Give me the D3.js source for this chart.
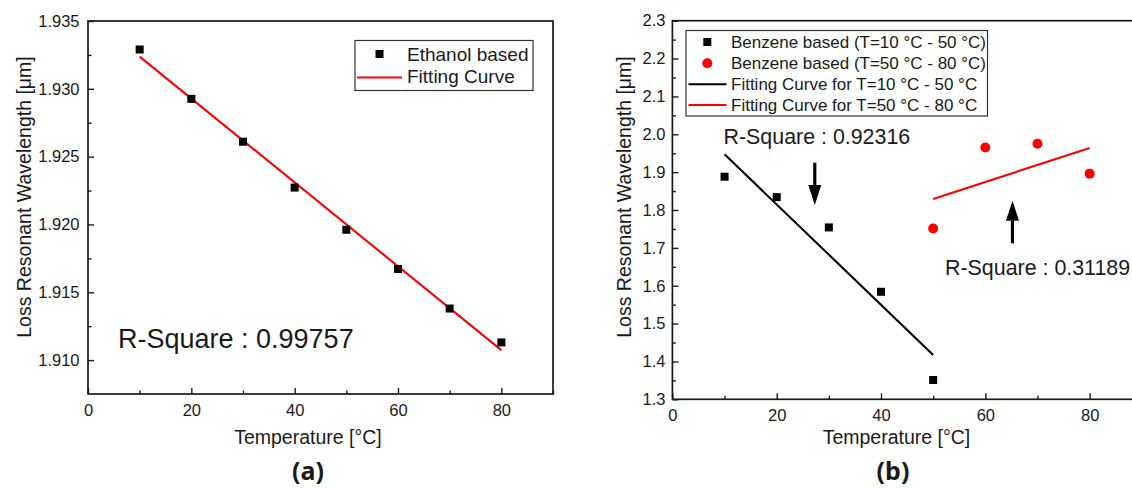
<!DOCTYPE html>
<html>
<head>
<meta charset="utf-8">
<script src="https://cdn.jsdelivr.net/npm/d3@7"></script>
<style>
  html, body { margin: 0; padding: 0; background: #fff; }
  svg { display: block; font-family: "Liberation Sans", Arial, sans-serif; }
</style>
</head>
<body>
<svg id="chart" width="1132" height="488"></svg>
<script>
// ---- Panel (a): ethanol based sensor ----
const ethanolTemps = [10, 20, 30, 40, 50, 60, 70, 80];
const ethanolWavelengths = [1.9329, 1.92926, 1.9261, 1.92272, 1.91961, 1.91672, 1.9138, 1.9113];
const ethanolFitTemps = [10, 80];
const ethanolFitValues = [1.93237, 1.91073];
const ethanolYTicks = [1.910, 1.915, 1.920, 1.925, 1.930, 1.935];
const ethanolYMinor = [1.9125, 1.9175, 1.9225, 1.9275, 1.9325];
const ethanolRSquare = "R-Square : 0.99757";
const ethanolLegend = ["Ethanol based", "Fitting Curve"];

// ---- Panel (b): benzene based sensor ----
const benzeneLowTemps = [10, 20, 30, 40, 50];
const benzeneLowValues = [1.888, 1.834, 1.754, 1.584, 1.351];
const benzeneHighTemps = [50, 60, 70, 80];
const benzeneHighValues = [1.751, 1.965, 1.975, 1.896];
const benzeneLowFitTemps = [10, 50];
const benzeneLowFitValues = [1.947, 1.417];
const benzeneHighFitTemps = [50, 80];
const benzeneHighFitValues = [1.829, 1.964];
const benzeneYTicks = [1.3, 1.4, 1.5, 1.6, 1.7, 1.8, 1.9, 2.0, 2.1, 2.2, 2.3];
const benzeneYMinor = [1.35, 1.45, 1.55, 1.65, 1.75, 1.85, 1.95, 2.05, 2.15, 2.25];
const benzeneRSquareLow = "R-Square : 0.92316";
const benzeneRSquareHigh = "R-Square : 0.31189";
const benzeneLegend = [
  "Benzene based (T=10 °C - 50 °C)",
  "Benzene based (T=50 °C - 80 °C)",
  "Fitting Curve for T=10 °C - 50 °C",
  "Fitting Curve for T=50 °C - 80 °C"
];

// ---- shared axis ticks and titles ----
const tempTicks = [0, 20, 40, 60, 80, 100];
const tempMinor = [10, 30, 50, 70, 90];
const xTitle = "Temperature [°C]";
const yTitle = "Loss Resonant Wavelength [μm]";

const INK = "#1a1a1a";
const RED = "#ff0000";
const svg = d3.select("#chart");

function drawFrame(g, x, y, opts) {
  const [x0, x1] = x.range();
  const [yb, yt] = y.range();
  g.append("rect")
    .attr("x", x0).attr("y", yt)
    .attr("width", x1 - x0).attr("height", yb - yt)
    .attr("fill", "none").attr("stroke", INK).attr("stroke-width", 1.7);

  const styleAxis = sel => {
    sel.select(".domain").remove();
    sel.selectAll(".tick line").attr("stroke", INK).attr("stroke-width", 1.4);
    sel.selectAll(".tick text")
      .attr("fill", INK)
      .attr("font-family", '"Liberation Sans", Arial, sans-serif')
      .attr("font-size", opts.tickFont);
  };

  // x axis: inward major and minor ticks
  g.append("g").attr("transform", `translate(0,${yb})`)
    .call(d3.axisBottom(x).tickValues(tempTicks.filter(t => t <= x.domain()[1]))
      .tickFormat(d3.format("d")).tickSizeInner(-6).tickSizeOuter(0).tickPadding(opts.xPad))
    .call(styleAxis);
  g.append("g").attr("transform", `translate(0,${yb})`)
    .call(d3.axisBottom(x).tickValues(tempMinor).tickFormat("").tickSizeInner(-3.5).tickSizeOuter(0))
    .call(styleAxis);

  // y axis: inward major and minor ticks
  g.append("g").attr("transform", `translate(${x0},0)`)
    .call(d3.axisLeft(y).tickValues(opts.yTicks).tickFormat(d3.format(opts.yFormat))
      .tickSizeInner(-6).tickSizeOuter(0).tickPadding(opts.yPad))
    .call(styleAxis);
  g.append("g").attr("transform", `translate(${x0},0)`)
    .call(d3.axisLeft(y).tickValues(opts.yMinor).tickFormat("").tickSizeInner(-3.5).tickSizeOuter(0))
    .call(styleAxis);

  // axis titles
  g.append("text")
    .attr("x", opts.xTitleX).attr("y", 444)
    .attr("text-anchor", "middle").attr("font-size", 19.5).attr("fill", INK)
    .text(xTitle);
  g.append("text")
    .attr("transform", `translate(${opts.yTitleX},197) rotate(-90)`)
    .attr("text-anchor", "middle").attr("font-size", 19.5).attr("fill", INK)
    .text(yTitle);
  // panel label
  g.append("text")
    .attr("x", opts.labelX).attr("y", 480)
    .attr("text-anchor", "middle")
    .attr("font-family", '"Noto Sans", "Open Sans", sans-serif')
    .attr("font-weight", "bold").attr("font-size", 25).attr("fill", INK)
    .text(opts.label);
}

function squares(g, x, y, xs, ys, size) {
  g.selectAll(null).data(xs.map((t, i) => [t, ys[i]])).enter()
    .append("rect")
    .attr("x", d => x(d[0]) - size / 2).attr("y", d => y(d[1]) - size / 2)
    .attr("width", size).attr("height", size).attr("fill", "#000");
}

function fitLine(g, x, y, xs, ys, color) {
  g.append("path")
    .datum(xs.map((t, i) => [t, ys[i]]))
    .attr("d", d3.line().x(d => x(d[0])).y(d => y(d[1])))
    .attr("fill", "none").attr("stroke", color).attr("stroke-width", 2.1);
}

function arrow(g, x, y, t, from, to) {
  const px = x(t), p0 = y(from), p1 = y(to);
  const dir = Math.sign(p1 - p0), head = 20, half = 6.5;
  g.append("line")
    .attr("x1", px).attr("x2", px).attr("y1", p0).attr("y2", p1 - dir * head)
    .attr("stroke", "#000").attr("stroke-width", 3.2);
  g.append("path")
    .attr("d", `M${px - half},${p1 - dir * head} L${px + half},${p1 - dir * head} L${px},${p1} Z`)
    .attr("fill", "#000");
}

// ================= Panel (a) =================
{
  const g = svg.append("g");
  const x = d3.scaleLinear().domain([0, 90]).range([88, 553]);
  const y = d3.scaleLinear().domain([1.9075, 1.935]).range([394, 21]);
  drawFrame(g, x, y, {
    tickFont: 16.5, xPad: 10, yPad: 8.5, yTicks: ethanolYTicks, yMinor: ethanolYMinor,
    yFormat: ".3f", xTitleX: 308, yTitleX: 30.5, labelX: 308, label: "(a)"
  });
  fitLine(g, x, y, ethanolFitTemps, ethanolFitValues, RED);
  squares(g, x, y, ethanolTemps, ethanolWavelengths, 8);

  g.append("text").attr("x", 118).attr("y", 348)
    .attr("font-size", 27).attr("fill", INK).text(ethanolRSquare);

  // legend
  const lg = g.append("g");
  lg.append("rect").attr("x", 355).attr("y", 40.5).attr("width", 178).attr("height", 50)
    .attr("fill", "#fff").attr("stroke", "#333").attr("stroke-width", 1.2);
  lg.append("rect").attr("x", 379.5 - 4).attr("y", 54 - 4).attr("width", 8).attr("height", 8).attr("fill", "#000");
  lg.append("line").attr("x1", 357).attr("x2", 402).attr("y1", 77.5).attr("y2", 77.5)
    .attr("stroke", RED).attr("stroke-width", 2);
  lg.selectAll(null).data(ethanolLegend).enter().append("text")
    .attr("x", 407).attr("y", (d, i) => 61 + i * 21.5)
    .attr("font-size", 19).attr("fill", INK).text(d => d);
}

// ================= Panel (b) =================
{
  const g = svg.append("g");
  const x = d3.scaleLinear().domain([0, 90]).range([672.4, 1141.8]);
  const y = d3.scaleLinear().domain([1.3, 2.3]).range([399.3, 20.7]);
  drawFrame(g, x, y, {
    tickFont: 16.5, xPad: 10, yPad: 7, yTicks: benzeneYTicks, yMinor: benzeneYMinor,
    yFormat: ".1f", xTitleX: 896.5, yTitleX: 631, labelX: 893, label: "(b)"
  });
  fitLine(g, x, y, benzeneLowFitTemps, benzeneLowFitValues, "#000");
  fitLine(g, x, y, benzeneHighFitTemps, benzeneHighFitValues, RED);
  squares(g, x, y, benzeneLowTemps, benzeneLowValues, 8);
  g.selectAll(null).data(benzeneHighTemps.map((t, i) => [t, benzeneHighValues[i]])).enter()
    .append("circle").attr("cx", d => x(d[0])).attr("cy", d => y(d[1])).attr("r", 5)
    .attr("fill", RED);

  // annotations
  g.append("text").attr("x", 723.5).attr("y", 144)
    .attr("font-size", 21.4).attr("fill", INK).text(benzeneRSquareLow);
  g.append("text").attr("x", 945).attr("y", 275)
    .attr("font-size", 21.4).attr("fill", INK).text(benzeneRSquareHigh);
  arrow(g, x, y, 27.3, 1.925, 1.8135);
  arrow(g, x, y, 65.2, 1.712, 1.8246);

  // legend
  const lg = g.append("g");
  lg.append("rect").attr("x", 686).attr("y", 30.5).attr("width", 301.5).attr("height", 85.5)
    .attr("fill", "#fff").attr("stroke", "#333").attr("stroke-width", 1.2);
  lg.append("rect").attr("x", 707.3 - 4).attr("y", 42 - 4).attr("width", 8).attr("height", 8).attr("fill", "#000");
  lg.append("circle").attr("cx", 707.3).attr("cy", 63.3).attr("r", 5).attr("fill", RED);
  lg.append("line").attr("x1", 688.5).attr("x2", 726.5).attr("y1", 84.3).attr("y2", 84.3)
    .attr("stroke", "#000").attr("stroke-width", 2);
  lg.append("line").attr("x1", 688.5).attr("x2", 726.5).attr("y1", 105).attr("y2", 105)
    .attr("stroke", RED).attr("stroke-width", 2);
  lg.selectAll(null).data(benzeneLegend).enter().append("text")
    .attr("x", 731).attr("y", (d, i) => 47.8 + i * 20.9)
    .attr("font-size", 17).attr("fill", INK).text(d => d);
}
</script>
</body>
</html>
